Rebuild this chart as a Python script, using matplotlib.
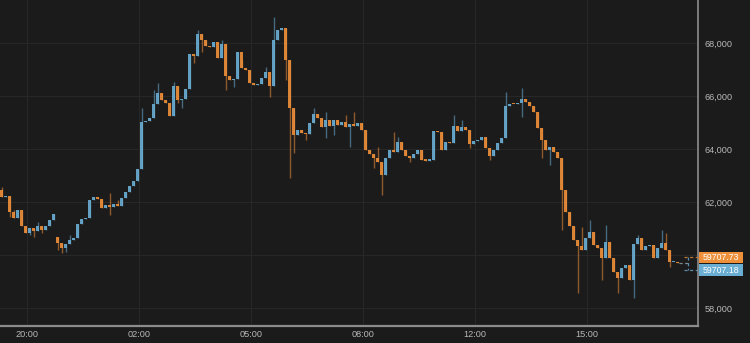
import numpy as np
import matplotlib
matplotlib.use('Agg')
import matplotlib.pyplot as plt
import matplotlib.transforms as mtransforms
from matplotlib.patches import Rectangle

# closing prices, one candle per slot (two sessions, gap after index 13)
closes = [
    62190, 62230, 61620, 61400, 61700, 61090, 60830, 61020, 60900, 61090,
    60940, 61080, 61320, 61550,
    60450, 60260, 60410, 60565, 60640, 61170, 61360, 61400, 62075, 62190,
    62110, 61770, 61885, 61810, 61925, 61850, 62150, 62380, 62600, 62790,
    63245, 65020, 65060, 65170, 65700, 66115, 65850, 65735, 65245, 66380,
    65850, 65890, 66265, 67585, 67510, 68340, 68115, 67885, 67850, 68040,
    67435, 67960, 66755, 66605, 66640, 67660, 67055, 66980, 66490, 66415,
    66450, 66680, 66905, 66380, 68115, 68490, 68565, 67360, 65545, 64530,
    64720, 64605, 64565, 64980, 65320, 65170, 64830, 65095, 64870, 65095,
    64905, 65020, 64830, 64945, 64870, 64980, 64715, 63960, 63810, 63660,
    63510, 63020, 63660, 63960, 63885, 64265, 63960, 63735, 63660, 63810,
    63960, 63585, 63560, 63600, 64680, 64640, 63960, 64265, 64225, 64870,
    64680, 64830, 64715, 64190, 64300, 64340, 64455, 64040, 63735, 63960,
    64225, 64415, 65620, 65700, 65690, 65735, 65885, 65775, 65620, 65395,
    64790, 64340, 63960, 64075, 63885, 63660, 62450, 61620, 61090, 60565,
    60340, 60190, 60640, 60870, 60375, 60265, 59885, 60490, 59885, 59355,
    59130, 59510, 59620, 59055, 60415, 60640, 60190, 60340, 60375, 59885,
    60265, 60450, 60190, 59735, 59750, 59707.73,
]
session_opens = {0: 62450, 14: 60680}
wick_high = {0: 62570, 3: 61700, 9: 61245, 17: 60755, 27: 62340, 29: 62075,
             35: 65545, 38: 66230, 39: 66490, 43: 66530, 49: 68490, 55: 68110,
             60: 67360, 66: 67090, 68: 68980, 78: 65550, 81: 65400, 86: 65280,
             88: 65400, 94: 64075, 98: 64640, 99: 64450, 113: 65280, 115: 65095,
             126: 66150, 130: 66300, 145: 61060, 147: 61320, 151: 61130,
             159: 60755, 165: 60940, 166: 60830}
wick_low = {2: 61430, 7: 60755, 8: 60680, 10: 60830, 14: 60190, 15: 60075,
            16: 60110, 27: 61510, 44: 65735, 45: 65550, 48: 67245, 50: 67660,
            56: 66230, 58: 66340, 67: 65960, 71: 66600, 72: 62905, 73: 63850,
            76: 64340, 81: 64415, 83: 64530, 87: 64075, 93: 63285, 95: 62265,
            102: 63510, 117: 64040, 122: 63585, 130: 65210, 135: 63660,
            137: 63395, 140: 60940, 144: 58565, 150: 59055, 154: 58565,
            158: 58375, 167: 59545}

time_ticks = [6.4, 34.4, 62.4, 90.4, 118.4, 146.4]
time_labels = ['20:00', '02:00', '05:00', '08:00', '12:00', '15:00']
price_ticks = [58000, 60000, 62000, 64000, 66000, 68000]
price_labels = ['58,000', '', '62,000', '64,000', '66,000', '68,000']
last_prices = [59707.73, 59707.18]

ORANGE = '#ee8f3a'
BLUE = '#6aaed4'
BG = '#1b1b1b'

plt.rcParams['font.family'] = ['Liberation Sans', 'DejaVu Sans']

n = len(closes)
idx = np.arange(n)
opens = np.array([session_opens.get(i, closes[i - 1] if i else closes[0]) for i in range(n)], float)
closes_a = np.array(closes, float)
highs = np.array([wick_high.get(i, max(opens[i], closes_a[i])) for i in range(n)])
lows = np.array([wick_low.get(i, min(opens[i], closes_a[i])) for i in range(n)])
up = closes_a >= opens
colors = [BLUE if u else ORANGE for u in up]

fig = plt.figure(figsize=(7.5, 3.43), dpi=100, facecolor=BG)
ax = fig.add_axes([0, 17 / 343, 698 / 750, 326 / 343], facecolor=BG)

ax.vlines(idx, lows, highs, colors=colors, lw=1.0, alpha=0.55, zorder=2)
bottoms = np.minimum(opens, closes_a)
heights = np.maximum(np.abs(closes_a - opens), 45)
ax.bar(idx, heights, bottom=bottoms, width=0.92, color=colors, alpha=0.9,
       linewidth=0, zorder=3)

ax.set_xlim(-0.375, 174.125)
ax.set_ylim(57320, 69620)

ax.set_xticks(time_ticks)
ax.set_xticklabels(time_labels)
ax.set_yticks(price_ticks)
ax.set_yticklabels(price_labels)
ax.yaxis.tick_right()
ax.tick_params(axis='both', length=0, colors='#b8b8b8', labelsize=6.6)
ax.tick_params(axis='y', pad=5)
ax.tick_params(axis='x', pad=3)
ax.grid(True, color='#272727', lw=0.8, zorder=0)

for side in ['left', 'top']:
    ax.spines[side].set_visible(False)
ax.spines['bottom'].set_color('#8c8c8c')
ax.spines['bottom'].set_linewidth(1.6)
ax.spines['right'].set_color('#8c8c8c')
ax.spines['right'].set_linewidth(1.2)

# price tags on the right axis
trans = mtransforms.blended_transform_factory(ax.transAxes, ax.transData)
tag_y = [last_prices[0] + 200, last_prices[1] - 275]
tag_h = 420
for price, y, col, dash in zip(last_prices, tag_y, [ORANGE, BLUE], ['#b8763a', '#5a8cab']):
    ax.add_patch(Rectangle((1.0015, y - tag_h / 2), 0.063, tag_h, transform=trans,
                           facecolor=col, edgecolor='none', clip_on=False, zorder=5))
    ax.text(1.0015 + 0.0315, y, f'{price:.2f}', transform=trans, ha='center',
            va='center', color='white', fontsize=6.3, clip_on=False, zorder=6)
    ax.plot([170.6, 174.2], [y, y], color=dash, lw=0.9, ls=(0, (2.5, 2)),
            clip_on=False, zorder=4)
ax.plot([171.6, 171.6], tag_y, color='#5a8cab', lw=0.9, ls=(0, (2.5, 2)), zorder=4)
ax.plot([169.4, 171.6], [last_prices[0], last_prices[0]], color='#7a8a95', lw=0.9,
        ls=(0, (2.5, 2)), zorder=4)

fig.savefig('out.png', dpi=100, facecolor=BG)
